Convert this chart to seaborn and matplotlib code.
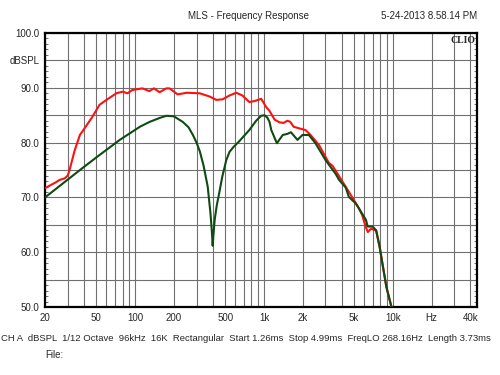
import numpy as np
import pandas as pd
import seaborn as sns
import matplotlib.pyplot as plt
from matplotlib.ticker import FixedLocator, NullFormatter

# red trace (Hz, dBSPL)
red_freq = [20, 24, 26, 28.5, 30, 31, 34, 37.3, 40.8, 46, 53, 60, 71.5, 80, 87.5, 95,
            114, 129, 140, 155, 175, 185, 214, 251, 318, 380, 427, 478, 540, 610, 680,
            771, 850, 952, 1040, 1104, 1210, 1320, 1420, 1520, 1600, 1700, 1880, 2100,
            2300, 2670, 3190, 3400, 3800, 4300, 4820, 5460, 5780, 6190, 6400, 6770,
            7420, 7900, 8380, 8910, 9770, 10000]
red_db = [71.7, 72.7, 73.2, 73.5, 74.0, 75.0, 78.6, 81.4, 82.7, 84.5, 86.9, 87.8, 89.0,
          89.3, 89.0, 89.6, 89.9, 89.4, 89.9, 89.2, 89.9, 89.9, 88.8, 89.1, 89.0, 88.4,
          87.8, 87.9, 88.6, 89.1, 88.6, 87.4, 87.6, 88.0, 86.5, 85.8, 84.2, 83.7, 83.6,
          84.0, 83.8, 82.9, 82.6, 82.3, 81.4, 79.6, 76.3, 75.8, 74.0, 72.0, 70.1, 68.0,
          66.8, 64.5, 63.7, 64.3, 64.0, 61.0, 57.4, 53.7, 50.0, 49.4]

# green trace (Hz, dBSPL)
green_freq = [20, 37.3, 50, 76, 109, 130, 155, 175, 200, 234, 260, 281, 300, 318, 340,
              366, 385, 395, 400, 405, 415, 430, 447, 475, 510, 540, 580, 640, 770, 870,
              952, 1010, 1060, 1104, 1140, 1260, 1400, 1520, 1620, 1820, 1990, 2230,
              2510, 3010, 3600, 3830, 4310, 4560, 5160, 5460, 6190, 6380, 6980, 7420,
              7900, 8380, 8910, 9770, 10000]
green_db = [70.0, 75.0, 77.3, 80.5, 82.9, 83.8, 84.5, 84.9, 84.8, 83.8, 82.8, 81.4,
            80.0, 78.4, 75.8, 72.0, 67.0, 63.5, 61.2, 63.0, 66.0, 68.5, 70.5, 73.8,
            76.8, 78.3, 79.2, 80.2, 82.3, 84.0, 84.9, 85.0, 84.6, 83.8, 82.3, 79.9,
            81.4, 81.6, 81.9, 80.5, 81.4, 81.4, 79.9, 76.8, 74.3, 73.2, 71.8, 70.1,
            68.9, 68.0, 65.9, 64.7, 64.7, 64.0, 61.0, 57.4, 53.7, 50.0, 49.4]

major_x = [20, 50, 100, 200, 500, 1000, 2000, 5000, 10000, 20000, 40000]
major_x_labels = ['20', '50', '100', '200', '500', '1k', '2k', '5k', '10k', 'Hz', '40k']
y_ticks = [50, 55, 60, 65, 70, 75, 80, 85, 90, 95, 100]
y_labels = ['50.0', '', '60.0', '', '70.0', '', '80.0', '', '90.0', 'dBSPL', '100.0']

info_line = ("CH A  dBSPL  1/12 Octave  96kHz  16K  Rectangular  Start 1.26ms"
             "  Stop 4.99ms  FreqLO 268.16Hz  Length 3.73ms")

df = pd.concat([
    pd.DataFrame({'freq': red_freq, 'db': red_db, 'trace': 'red'}),
    pd.DataFrame({'freq': green_freq, 'db': green_db, 'trace': 'green'}),
])

sns.set_style("white")
plt.rcParams['font.family'] = ['Liberation Sans', 'DejaVu Sans']

fig = plt.figure(figsize=(5, 3.75), dpi=100)
ax = fig.add_axes([0.09, 0.181, 0.864, 0.731])

sns.lineplot(data=df, x='freq', y='db', hue='trace', sort=False, estimator=None,
             palette={'red': '#ff1010', 'green': '#0f4a14'}, linewidth=1.5,
             legend=False, ax=ax, zorder=3)

ax.set_xscale('log')
ax.set_xlim(20, 45000)
ax.set_ylim(50, 100)

minor_x = [m * d for d in [10, 100, 1000, 10000] for m in range(1, 10)]
minor_x = [v for v in minor_x if 20 < v < 45000 and v not in major_x]
ax.xaxis.set_major_locator(FixedLocator(major_x))
ax.set_xticklabels(major_x_labels)
ax.xaxis.set_minor_locator(FixedLocator(minor_x))
ax.xaxis.set_minor_formatter(NullFormatter())

ax.yaxis.set_major_locator(FixedLocator(y_ticks))
ax.set_yticklabels(y_labels)
ax.yaxis.set_minor_locator(FixedLocator(list(range(50, 101))))

ax.grid(True, which='both', axis='x', color='#707070', linewidth=0.8)
ax.grid(True, which='major', axis='y', color='#707070', linewidth=0.8)
ax.tick_params(axis='x', which='both', length=0, labelsize=7, pad=4)
ax.tick_params(axis='y', which='major', length=0, labelsize=7, pad=4)
ax.tick_params(axis='y', which='minor', direction='in', length=2.5, width=0.6,
               left=True, right=True, color='#555555')
ax.set_xlabel('')
ax.set_ylabel('')
for s in ax.spines.values():
    s.set_color('black')
    s.set_linewidth(1.6)

ax.text(0.997, 0.99, 'CLIO', transform=ax.transAxes, ha='right', va='top',
        fontsize=7, fontweight='bold', family=['Liberation Serif', 'DejaVu Serif'])

fig.text(0.498, 0.957, 'MLS - Frequency Response', ha='center', va='center', fontsize=7)
fig.text(0.954, 0.957, '5-24-2013 8.58.14 PM', ha='right', va='center', fontsize=7)
fig.text(0.002, 0.098, info_line, ha='left', va='center', fontsize=6.8)
fig.text(0.09, 0.053, 'File:', ha='left', va='center', fontsize=7)

fig.savefig('out.png', dpi=100, facecolor='white')
